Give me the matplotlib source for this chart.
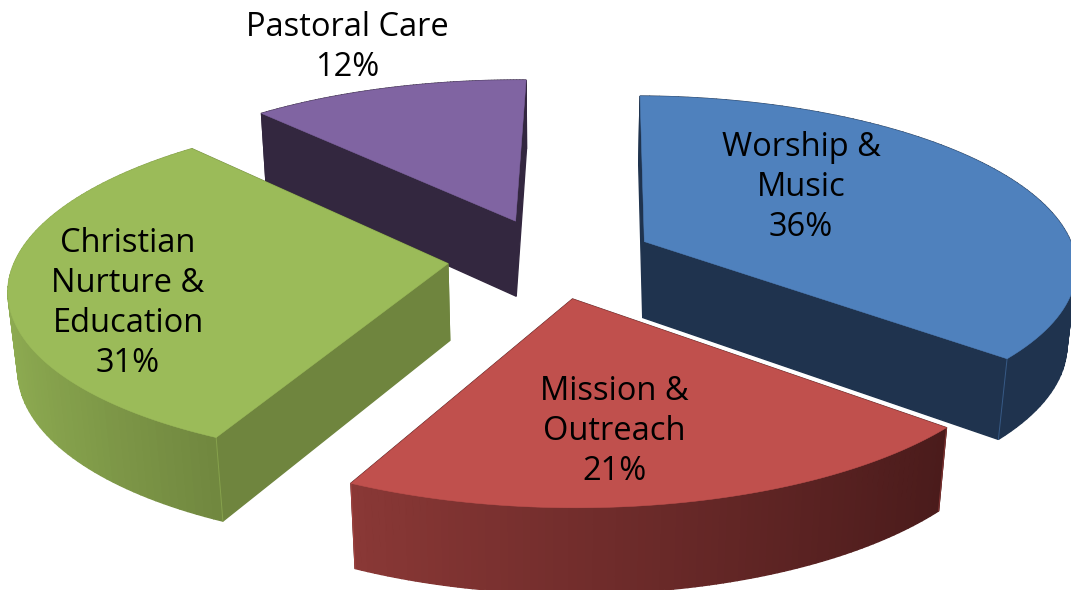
import numpy as np
import matplotlib
matplotlib.use('Agg')
import matplotlib.pyplot as plt
from matplotlib.patches import Polygon

categories = ['Worship &\nMusic', 'Mission &\nOutreach', 'Christian\nNurture &\nEducation', 'Pastoral Care']
shares = [36, 21, 31, 12]

top_colors = ['#4f81bd', '#c0504d', '#9bbb59', '#8064a2']
cut_colors = ['#1f334e', '#4d1c1c', '#6f853e', '#33273f']
arc_left_colors = ['#1f334e', '#8a3836', '#8fad52', '#33273f']
arc_right_colors = ['#1f334e', '#4a1b1b', '#70873f', '#33273f']

# projection of the pie, radius 1, screen pixels
CX, CY = 551, 258
SCALE_X, SCALE_Y = 432, 169
PERSP = 0.133
DEPTH = 78
DEPTH_PERSP = 0.018
EXPLODE = 0.24
START = np.radians(1)


def project(x, y, low=0.0):
    w = 1 + PERSP * y + DEPTH_PERSP * low
    return CX + SCALE_X * x / w, CY + (-SCALE_Y * y + DEPTH * low) / w


def mix(c1, c2, t):
    a = np.array(matplotlib.colors.to_rgb(c1))
    b = np.array(matplotlib.colors.to_rgb(c2))
    return tuple(a + (b - a) * t)


fig = plt.figure(figsize=(10.71, 5.9), dpi=100)
ax = fig.add_axes([0, 0, 1, 1])
ax.set_xlim(0, 1071)
ax.set_ylim(590, 0)
ax.axis('off')

edges = START + np.cumsum([0] + shares) / sum(shares) * 2 * np.pi
order = sorted(range(len(shares)), key=lambda i: -np.cos((edges[i] + edges[i + 1]) / 2))

for i in order:
    t0, t1 = edges[i], edges[i + 1]
    mid = (t0 + t1) / 2
    ox, oy = EXPLODE * np.sin(mid), EXPLODE * np.cos(mid)
    t = np.linspace(t0, t1, 90)
    ex, ey = ox + np.sin(t), oy + np.cos(t)

    # walls, far ones first
    walls = []
    for j in range(len(t) - 1):
        quad = [project(ex[j], ey[j]), project(ex[j + 1], ey[j + 1]),
                project(ex[j + 1], ey[j + 1], 1), project(ex[j], ey[j], 1)]
        sx = (ex[j] + ex[j + 1]) / 2
        f = np.clip((sx - ex.min()) / (ex.max() - ex.min()), 0, 1)
        col = mix(arc_left_colors[i], arc_right_colors[i], f)
        walls.append(((ey[j] + ey[j + 1]) / 2, quad, col))
    for k in (0, -1):
        quad = [project(ox, oy), project(ex[k], ey[k]),
                project(ex[k], ey[k], 1), project(ox, oy, 1)]
        walls.append(((oy + ey[k]) / 2, quad, cut_colors[i]))
    for _, quad, col in sorted(walls, key=lambda w: -w[0]):
        ax.add_patch(Polygon(quad, closed=True, facecolor=col, edgecolor=col, linewidth=1.0))

    top = [project(ox, oy)] + [project(a, b) for a, b in zip(ex, ey)]
    ax.add_patch(Polygon(top, closed=True, facecolor=top_colors[i], edgecolor=top_colors[i], linewidth=0.4))

    # faint ridge where the cut meets the rim
    for k in (0, -1):
        p0, p1 = project(ex[k], ey[k]), project(ex[k], ey[k], 1)
        if ey[k] < oy:
            ax.plot([p0[0], p1[0]], [p0[1], p1[1]], color=top_colors[i], lw=0.7, alpha=0.5)

label_pos = [(801, 187), (614, 431), (128, 303), (347, 47)]
for name, val, (lx, ly) in zip(categories, shares, label_pos):
    ax.text(lx, ly, f'{name}\n{val}%', ha='center', va='center', family='Open Sans',
            fontsize=23.5, color='black', linespacing=1.28)

fig.savefig('out.png', dpi=100, facecolor='white')
